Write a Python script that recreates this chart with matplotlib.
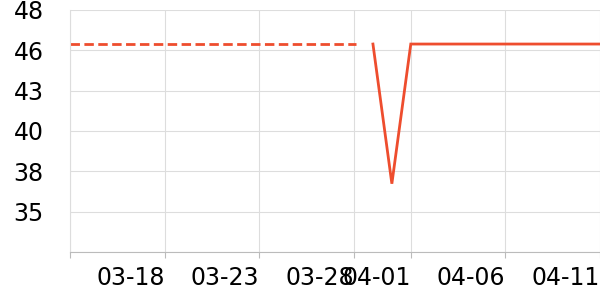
import matplotlib
import matplotlib.pyplot as plt
import numpy as np

matplotlib.use("Agg")

# x positions are day offsets from 03-13 (left edge of the axis)
TICK_DAYS = [0, 5, 10, 15, 18, 23, 28]
TICK_LABELS = ["", "03-18", "03-23", "03-28", "04-01", "04-06", "04-11"]

DASHED_DAYS = [0, 15.1]
DASHED_VALUES = [46.0, 46.0]

SOLID_DAYS = [16, 17, 18, 28]
SOLID_VALUES = [46.0, 37.0, 46.0, 46.0]

Y_MIN = 32.6
Y_STEP = 2.6
Y_COUNT = 7

LINE_COLOR = "#ee4d2e"

fig = plt.figure(figsize=(6, 3), dpi=100)
ax = fig.add_axes([0.117, 0.16, 0.883, 0.807])

ax.plot(DASHED_DAYS, DASHED_VALUES, color=LINE_COLOR, lw=2.0,
        dashes=(3.4, 1.6), clip_on=False)
ax.plot(SOLID_DAYS, SOLID_VALUES, color=LINE_COLOR, lw=2.0,
        solid_joinstyle="miter", clip_on=False)

yticks = Y_MIN + Y_STEP * np.arange(Y_COUNT)
ax.set_ylim(yticks[0], yticks[-1])
ax.set_yticks(yticks)
ax.set_yticklabels([""] + [f"{v:.0f}" for v in yticks[1:]])
ax.set_xlim(TICK_DAYS[0], TICK_DAYS[-1])
ax.set_xticks(TICK_DAYS)
ax.set_xticklabels(TICK_LABELS, ha="right")

ax.grid(True, color="#dddddd", lw=0.8)
ax.set_axisbelow(True)
for side in ["top", "right"]:
    ax.spines[side].set_visible(False)
ax.spines["left"].set_color("#dddddd")
ax.spines["bottom"].set_color("#bbbbbb")

ax.tick_params(axis="y", length=0, pad=19, labelsize=17, labelcolor="#000000")
ax.tick_params(axis="x", length=4, width=0.8, color="#bbbbbb", pad=6,
               labelsize=17, labelcolor="#000000")

fig.savefig("out.png", dpi=100)
plt.close(fig)
